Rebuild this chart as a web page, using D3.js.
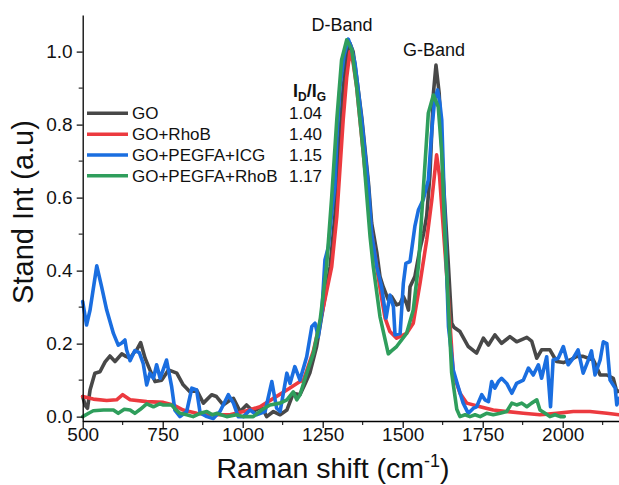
<!DOCTYPE html>
<html><head><meta charset="utf-8">
<script src="https://cdn.jsdelivr.net/npm/d3@7"></script>
<style>body{margin:0;background:#fff}svg{display:block;font-family:"Liberation Sans",Arial,sans-serif}</style>
</head><body><svg id="c" width="619" height="485"></svg>
<script>
const seriesNames = ["GO","GO+RhoB","GO+PEGFA+ICG","GO+PEGFA+RhoB"];
const ratioLabels = ["1.04","1.40","1.15","1.17"];
const xTicks = [500,750,1000,1250,1500,1750,2000];
const yTicks = [0,0.2,0.4,0.6,0.8,1.0];

const goShift = [500,508,515,523,538,554,570,585,601,622,635,648,660,669,681,695,710,726,747,768,794,814,835,856,877,903,918,939,960,971,992,1012,1033,1059,1075,1096,1117,1138,1158,1179,1195,1210,1231,1252,1273,1288,1300,1314,1325,1335,1345,1356,1372,1393,1403,1419,1429,1439,1455,1465,1481,1492,1502,1512,1518,1523,1538,1554,1565,1575,1585,1596,1604,1614,1627,1643,1653,1660,1679,1705,1731,1752,1768,1788,1809,1835,1856,1888,1903,1919,1934,1960,1981,2002,2023,2044,2064,2096,2117,2138,2158,2169,2176];
const goInt = [0.055,0.03,0.023,0.073,0.119,0.123,0.15,0.166,0.151,0.172,0.165,0.16,0.175,0.183,0.203,0.16,0.128,0.096,0.1,0.128,0.119,0.087,0.068,0.073,0.037,0.06,0.055,0.032,0.045,0.05,0.014,0.032,0.014,0.027,0.0,0.014,0.005,0.018,0.064,0.06,0.09,0.12,0.192,0.301,0.41,0.55,0.72,0.9,0.99,1.023,1.0,0.93,0.82,0.64,0.53,0.45,0.384,0.356,0.32,0.329,0.306,0.31,0.329,0.31,0.292,0.356,0.384,0.46,0.5,0.55,0.66,0.886,0.963,0.886,0.648,0.411,0.256,0.245,0.233,0.192,0.174,0.215,0.196,0.224,0.201,0.219,0.205,0.217,0.207,0.16,0.183,0.183,0.151,0.148,0.155,0.165,0.165,0.155,0.114,0.114,0.105,0.068,0.07];

const rhobShift = [500,533,575,606,625,648,700,752,783,814,856,908,960,1012,1054,1096,1138,1179,1190,1221,1252,1278,1294,1304,1314,1325,1335,1345,1356,1382,1393,1403,1414,1424,1435,1445,1460,1481,1512,1533,1554,1575,1591,1606,1615,1622,1643,1658,1679,1700,1742,1783,1825,1877,1929,1981,2033,2085,2138,2176];
const rhobInt = [0.055,0.048,0.044,0.046,0.06,0.046,0.041,0.039,0.032,0.018,0.009,0.005,0.005,0.016,0.027,0.05,0.073,0.096,0.1,0.18,0.3,0.41,0.548,0.68,0.813,0.93,1.0,0.97,0.904,0.676,0.594,0.5,0.44,0.38,0.32,0.27,0.233,0.215,0.228,0.256,0.365,0.484,0.594,0.717,0.66,0.575,0.32,0.119,0.064,0.037,0.027,0.018,0.014,0.009,0.005,0.009,0.014,0.014,0.009,0.005];

const icgShift = [500,512,523,544,559,575,596,611,621,632,637,648,663,677,689,700,710,721,731,742,762,778,788,804,825,841,856,867,888,908,929,955,971,986,1002,1023,1043,1070,1091,1106,1117,1138,1148,1163,1179,1200,1216,1226,1236,1247,1257,1268,1278,1288,1294,1304,1317,1330,1340,1351,1372,1393,1403,1419,1434,1448,1460,1471,1476,1492,1502,1510,1523,1538,1549,1564,1580,1591,1600,1609,1616,1622,1632,1643,1658,1674,1689,1705,1721,1731,1747,1757,1768,1778,1788,1799,1809,1825,1841,1856,1877,1893,1908,1924,1934,1950,1962,1970,1986,2002,2017,2033,2048,2064,2080,2090,2101,2117,2127,2138,2148,2164,2169,2176];
const icgInt = [0.315,0.251,0.292,0.413,0.356,0.292,0.228,0.196,0.201,0.21,0.183,0.153,0.181,0.175,0.146,0.087,0.119,0.105,0.142,0.105,0.155,0.082,0.018,0.0,0.014,0.078,0.073,0.01,0.0,-0.005,0.014,0.06,0.037,0.0,0.0,0.018,0.005,0.014,0.096,0.023,0.014,0.119,0.091,0.137,0.1,0.164,0.247,0.256,0.219,0.283,0.429,0.466,0.557,0.63,0.76,0.904,0.99,1.034,1.01,0.968,0.813,0.63,0.502,0.411,0.356,0.27,0.333,0.301,0.224,0.228,0.365,0.42,0.425,0.521,0.566,0.594,0.648,0.785,0.87,0.895,0.86,0.813,0.538,0.247,0.128,0.08,0.037,0.009,0.023,0.027,0.06,0.046,0.041,0.096,0.078,0.096,0.105,0.091,0.064,0.091,0.1,0.133,0.114,0.142,0.105,0.164,0.027,0.155,0.16,0.192,0.142,0.16,0.183,0.119,0.155,0.18,0.114,0.155,0.205,0.2,0.1,0.078,0.032,0.05];

const pegShift = [500,520,533,565,596,611,630,648,663,680,700,721,740,752,778,790,804,825,845,867,888,905,918,950,981,1002,1033,1059,1085,1117,1138,1158,1169,1179,1200,1221,1242,1262,1278,1294,1309,1325,1341,1356,1377,1398,1408,1429,1455,1465,1481,1512,1533,1550,1565,1580,1596,1611,1622,1632,1643,1653,1669,1679,1695,1710,1726,1742,1762,1783,1804,1825,1841,1856,1872,1888,1903,1919,1929,1945,1960,1976,1992,2005];
const pegInt = [0.0,0.01,0.016,0.018,0.018,0.009,0.02,0.018,0.009,0.02,0.035,0.027,0.035,0.032,0.032,0.02,0.009,0.005,0.0,0.009,0.014,0.005,0.009,0.0,0.005,0.0,0.0,0.018,0.032,0.037,0.046,0.068,0.046,0.06,0.119,0.174,0.265,0.411,0.6,0.813,0.977,1.032,1.005,0.904,0.722,0.493,0.411,0.274,0.172,0.18,0.192,0.228,0.292,0.42,0.63,0.831,0.881,0.849,0.722,0.493,0.3,0.12,0.02,0.0,0.005,0.0,0.005,0.0,0.009,0.005,0.009,0.014,0.037,0.032,0.037,0.027,0.037,0.046,0.018,0.009,0.0,0.005,0.0,0.0];

const series = [
  {shift: goShift, inten: goInt},
  {shift: rhobShift, inten: rhobInt},
  {shift: icgShift, inten: icgInt},
  {shift: pegShift, inten: pegInt}
];
const colors = ["#484848","#ec3a3f","#1a6ee0","#2f9e5c"];

const svg = d3.select("#c");
const x = d3.scaleLinear().domain([500,2180]).range([82.7,620.3]);
const y = d3.scaleLinear().domain([-0.012,1.1]).range([421,15.1]);

// curves
const line = d3.line().x(d=>x(d[0])).y(d=>y(d[1]));
series.forEach((s,i)=>{
  const pts = s.shift.map((v,j)=>[v,s.inten[j]]);
  svg.append("path").attr("d",line(pts)).attr("fill","none")
    .attr("stroke",colors[i]).attr("stroke-width",3.6)
    .attr("stroke-linejoin","round").attr("stroke-linecap","round");
});

// axes
const xAxis = d3.axisBottom(x).tickValues(xTicks).tickFormat(d3.format("d")).tickSize(7).tickSizeOuter(0);
const gx = svg.append("g").attr("transform","translate(0,421)").call(xAxis);
gx.selectAll("text").attr("font-size",19).attr("fill","#111").attr("dy","0.55em");
const xMinor = xTicks.map(v=>v+125).filter(v=>v<2180);
gx.selectAll(".minor").data(xMinor).enter().append("line").attr("class","minor")
  .attr("x1",d=>x(d)).attr("x2",d=>x(d)).attr("y1",0).attr("y2",4).attr("stroke","#000");

const yAxis = d3.axisLeft(y).tickValues(yTicks).tickFormat(d3.format(".1f")).tickSize(6).tickSizeOuter(0);
const gy = svg.append("g").attr("transform","translate(82.7,0)").call(yAxis);
gy.selectAll("text").attr("font-size",19).attr("fill","#111").attr("x",-10);
const yMinor = yTicks.map(v=>v+0.1).filter(v=>v<1.05);
gy.selectAll(".minor").data(yMinor).enter().append("line").attr("class","minor")
  .attr("x1",0).attr("x2",-4).attr("y1",d=>y(d)).attr("y2",d=>y(d)).attr("stroke","#000");
svg.selectAll(".domain").attr("stroke","#000").attr("stroke-width",1.3);
svg.selectAll(".tick line").attr("stroke","#000").attr("stroke-width",1.2);

// titles
const xt = svg.append("text").attr("x",333).attr("y",478).attr("text-anchor","middle")
  .attr("font-size",28.5).attr("fill","#111");
xt.append("tspan").text("Raman shift (cm");
xt.append("tspan").text("-1").attr("font-size",18).attr("dy",-11);
xt.append("tspan").text(")").attr("dy",11);

svg.append("text").attr("transform","translate(33,212) rotate(-90)").attr("text-anchor","middle")
  .attr("font-size",29).attr("fill","#111").text("Stand Int (a.u)");

// band labels
svg.append("text").attr("x",342).attr("y",31).attr("text-anchor","middle").attr("font-size",18).attr("fill","#111").text("D-Band");
svg.append("text").attr("x",434).attr("y",56).attr("text-anchor","middle").attr("font-size",18).attr("fill","#111").text("G-Band");

// legend
const legY = [113.3,134.3,155,175.7];
seriesNames.forEach((n,i)=>{
  svg.append("line").attr("x1",87).attr("x2",128).attr("y1",legY[i]).attr("y2",legY[i])
    .attr("stroke",colors[i]).attr("stroke-width",3.6);
  svg.append("text").attr("x",132).attr("y",legY[i]+6).attr("font-size",17).attr("fill","#111").text(n);
  svg.append("text").attr("x",305.5).attr("y",legY[i]+6).attr("text-anchor","middle").attr("font-size",17).attr("fill","#111").text(ratioLabels[i]);
});
const hd = svg.append("text").attr("x",293).attr("y",97).attr("font-size",18).attr("font-weight","bold").attr("fill","#111");
hd.append("tspan").text("I");
hd.append("tspan").text("D").attr("font-size",12).attr("dy",4);
hd.append("tspan").text("/I").attr("dy",-4);
hd.append("tspan").text("G").attr("font-size",12).attr("dy",4);
</script></body></html>
